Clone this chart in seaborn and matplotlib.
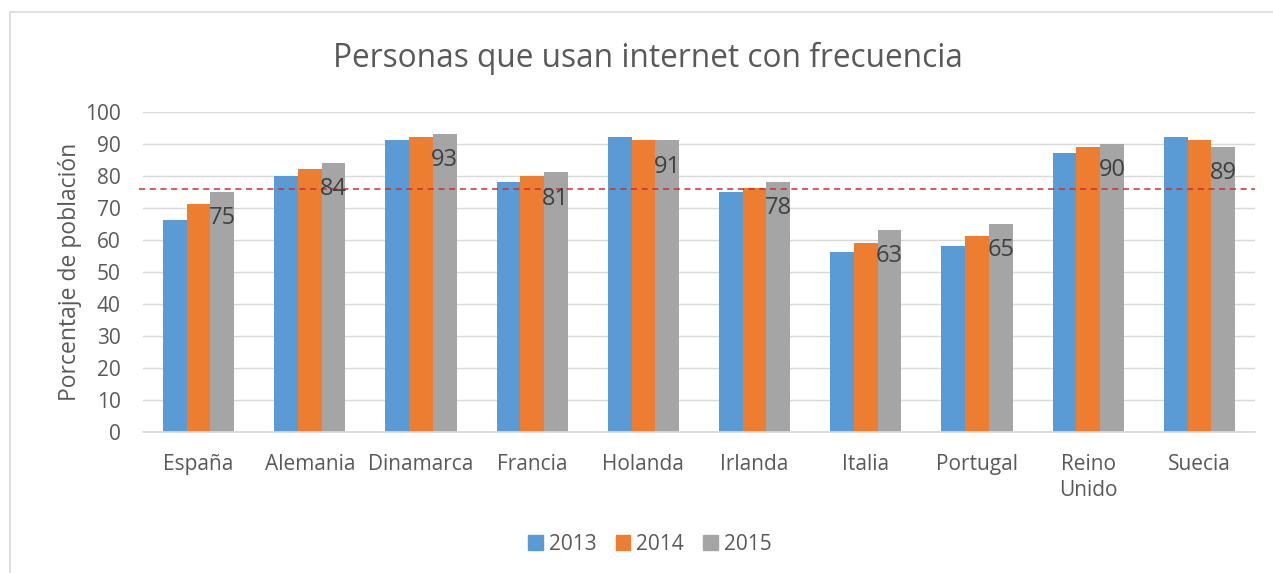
import matplotlib
matplotlib.use("Agg")
import matplotlib.pyplot as plt
import matplotlib.patches as mpatches
import numpy as np
import pandas as pd
import seaborn as sns

# data
paises = ["España", "Alemania", "Dinamarca", "Francia", "Holanda",
          "Irlanda", "Italia", "Portugal", "Reino\nUnido", "Suecia"]
anios = ["2013", "2014", "2015"]
v2013 = [66, 80, 91, 78, 92, 75, 56, 58, 87, 92]
v2014 = [71, 82, 92, 80, 91, 76, 59, 61, 89, 91]
v2015 = [75, 84, 93, 81, 91, 78, 63, 65, 90, 89]
media_ue = 75.7
yticks = list(range(0, 101, 10))

colores = ["#5B9BD5", "#ED7D31", "#A5A5A5"]
txt = "#595959"

df = pd.DataFrame({
    "pais": paises * 3,
    "anio": np.repeat(anios, len(paises)),
    "valor": v2013 + v2014 + v2015,
})

sns.set_theme(style="white")
plt.rcParams["font.family"] = ["Open Sans", "DejaVu Sans"]

fig = plt.figure(figsize=(12.73, 5.73), dpi=100)
ax = fig.add_axes([143 / 1273, 1 - 431.5 / 573, (1255 - 143) / 1273, 320 / 573])

sns.barplot(data=df, x="pais", y="valor", hue="anio", palette=colores,
            width=0.64, gap=0, saturation=1, linewidth=0, ax=ax, legend=False)

ax.set_ylim(0, 100)
ax.set_xlim(-0.5, len(paises) - 0.5)
ax.set_yticks(yticks)
ax.yaxis.grid(True, color="#D9D9D9", linewidth=1)
ax.set_axisbelow(True)
for s in ["top", "right", "left"]:
    ax.spines[s].set_visible(False)
ax.spines["bottom"].set_color("#D9D9D9")
ax.tick_params(axis="both", length=0, labelsize=15, colors=txt)
ax.tick_params(axis="y", pad=16)
ax.tick_params(axis="x", pad=16)
for lbl in ax.get_xticklabels():
    lbl.set_linespacing(1.35)
ax.set_xlabel("")
ax.set_ylabel("Porcentaje de población", fontsize=16.5, color=txt, labelpad=2)

# media line
ax.axhline(media_ue, xmin=-0.004, color="#C9302C", linestyle=(0, (4, 3)),
           linewidth=1.1, zorder=5, clip_on=False)

# data labels only for 2015
for bar, v in zip(ax.containers[2], v2015):
    ax.annotate(f"{v}", (bar.get_x() + bar.get_width() / 2, v),
                xytext=(0, -19), textcoords="offset points",
                ha="center", va="center", fontsize=17, color="#404040", zorder=6)

fig.text(648 / 1273, 1 - 58 / 573, "Personas que usan internet con frecuencia",
         ha="center", va="center", fontsize=22.8, color=txt)

handles = [mpatches.Patch(color=c, label=a) for c, a in zip(colores, anios)]
fig.legend(handles=handles, loc="center", bbox_to_anchor=(650 / 1273, 1 - 544 / 573),
           ncol=3, frameon=False, fontsize=15, labelcolor=txt,
           handlelength=0.7, handleheight=0.7, handletextpad=0.3, columnspacing=0.9)

# chart frame
fig.patches.append(mpatches.Rectangle((10 / 1273, -0.05), 1.1, 1 - 12 / 573 + 0.05,
                                      transform=fig.transFigure, fill=False,
                                      edgecolor="#D9D9D9", linewidth=1.2))

fig.savefig("out.png", dpi=100)
